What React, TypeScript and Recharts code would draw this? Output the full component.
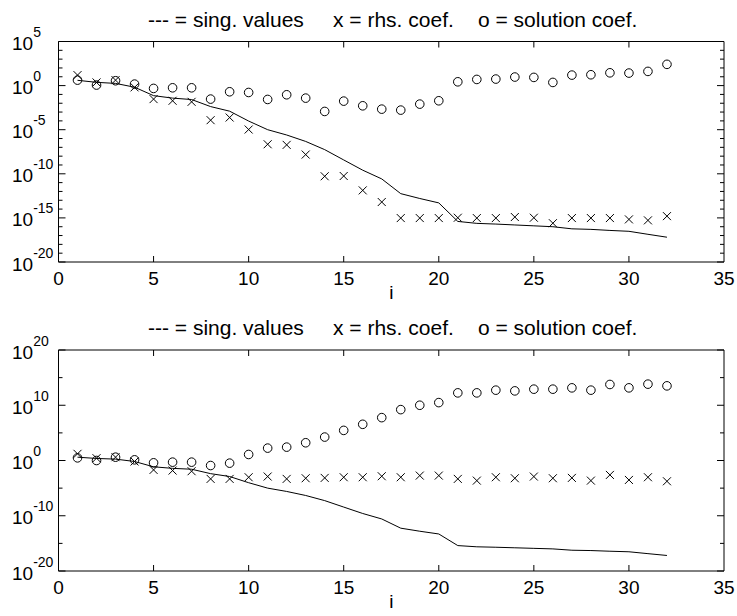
import React from "react";
import {
  ComposedChart,
  Line,
  Scatter,
  XAxis,
  YAxis,
  ReferenceLine,
} from "recharts";

// index of the coefficient
const idx = [
  1, 2, 3, 4, 5, 6, 7, 8, 9, 10, 11, 12, 13, 14, 15, 16, 17, 18, 19, 20, 21,
  22, 23, 24, 25, 26, 27, 28, 29, 30, 31, 32,
];

// log10 of the values
const singExp = [
  0.6, 0.37, 0.25, -0.18, -1.14, -1.42, -1.58, -2.38, -2.9, -4.02, -5.0, -5.6,
  -6.33, -7.26, -8.43, -9.59, -10.58, -12.25, -12.8, -13.3, -15.4, -15.62,
  -15.7, -15.8, -15.9, -16.0, -16.24, -16.3, -16.42, -16.52, -16.86, -17.19,
];

const rhsExpTop = [
  1.19, 0.36, 0.62, -0.2, -1.53, -1.72, -1.84, -3.92, -3.62, -4.98, -6.65,
  -6.72, -7.82, -10.28, -10.25, -11.88, -13.2, -15.02, -15.02, -15.02, -14.98,
  -15.02, -15.02, -14.9, -14.98, -15.6, -15.02, -15.02, -15.02, -15.17, -15.28,
  -14.8,
];
const solExpTop = [
  0.62, 0.06, 0.55, 0.17, -0.32, -0.25, -0.25, -1.53, -0.7, -0.78, -1.57,
  -1.04, -1.42, -2.93, -1.76, -2.29, -2.67, -2.78, -2.1, -1.72, 0.43, 0.7,
  0.74, 0.97, 0.93, 0.36, 1.19, 1.23, 1.45, 1.42, 1.61, 2.41,
];

const rhsExpBottom = [
  1.21, 0.42, 0.6, -0.18, -1.7, -1.82, -1.94, -3.33, -3.33, -3.03, -2.9, -3.33,
  -3.21, -3.15, -3.03, -3.03, -2.85, -3.03, -2.73, -2.73, -3.33, -3.64, -3.03,
  -3.21, -2.91, -3.21, -3.15, -3.64, -2.61, -3.52, -3.03, -3.76,
];
const solExpBottom = [
  0.48, 0, 0.6, 0.12, -0.42, -0.3, -0.3, -0.91, -0.48, 1.09, 2.24, 2.42, 3.21,
  4.24, 5.45, 6.55, 7.76, 9.21, 10.0, 10.48, 12.24, 12.24, 12.73, 12.6, 12.91,
  12.91, 13.15, 12.73, 13.76, 13.15, 13.82, 13.51,
];

const xTicks = [0, 5, 10, 15, 20, 25, 30, 35];
const topDecades = [
  -20, -19, -18, -17, -16, -15, -14, -13, -12, -11, -10, -9, -8, -7, -6, -5,
  -4, -3, -2, -1, 0, 1, 2, 3, 4, 5,
];
const topLabels = [-20, -15, -10, -5, 0, 5];
const bottomDecades = [-20, -15, -10, -5, 0, 5, 10, 15, 20];
const bottomLabels = [-20, -10, 0, 10, 20];

const titleParts = ["--- = sing. values", "x = rhs. coef.", "o = solution coef."];

const FONT = "Liberation Sans, Arial, Helvetica, sans-serif";
const W = 737;
const LEFT = 58.5;
const RIGHT = 724;

const makeRows = (rhs: number[], sol: number[]) =>
  idx.map((i, k) => ({
    i,
    sv: 10 ** singExp[k],
    rhs: 10 ** rhs[k],
    sol: 10 ** sol[k],
  }));

const Ring = (p: any) => (
  <circle cx={p.cx} cy={p.cy} r={4.3} fill="none" stroke="#000" strokeWidth={1} />
);

const Cross = (p: any) => {
  const { cx, cy } = p;
  const s = 4;
  return (
    <path
      d={`M${cx - s},${cy - s}L${cx + s},${cy + s}M${cx - s},${cy + s}L${cx + s},${cy - s}`}
      stroke="#000"
      strokeWidth={1}
      fill="none"
    />
  );
};

const YTick = (props: any) => {
  const { y, payload, labels } = props;
  const e = Math.round(Math.log10(payload.value));
  const major = labels.includes(e);
  const len = major ? 7 : 4;
  return (
    <g>
      <line x1={LEFT} x2={LEFT + len} y1={y} y2={y} stroke="#000" />
      <line x1={RIGHT - len} x2={RIGHT} y1={y} y2={y} stroke="#000" />
      {major && (
        <text x={12} y={y + 8.5} fontSize={19} fontFamily={FONT} fill="#000">
          10
          <tspan dy={-13} fontSize={14}>
            {e}
          </tspan>
        </text>
      )}
    </g>
  );
};

const XTick = (props: any) => {
  const { x, payload, top, bottom } = props;
  const v = payload.value;
  return (
    <g>
      {v > 0 && v < 35 && (
        <>
          <line x1={x} x2={x} y1={bottom} y2={bottom - 6} stroke="#000" />
          <line x1={x} x2={x} y1={top} y2={top + 6} stroke="#000" />
        </>
      )}
      <text x={x} y={bottom + 23} textAnchor="middle" fontSize={19} fontFamily={FONT} fill="#000">
        {v}
      </text>
    </g>
  );
};

type PanelProps = {
  rows: any[];
  height: number;
  top: number;
  xAxisH: number;
  lo: number;
  hi: number;
  decades: number[];
  labels: number[];
  labelOffset: number;
};

const Panel = ({ rows, height, top, xAxisH, lo, hi, decades, labels, labelOffset }: PanelProps) => {
  const bottom = height - xAxisH;
  return (
    <div style={{ position: "relative", width: W, height }}>
      <svg width={W} height={height} style={{ position: "absolute", left: 0, top: 0 }}>
        {titleParts.map((t, k) => (
          <text
            key={t}
            x={[148, 333, 478][k]}
            y={top - 15}
            fontSize={21}
            fontFamily={FONT}
            fill="#000"
          >
            {t}
          </text>
        ))}
      </svg>
      <div style={{ position: "absolute", left: 0, top: 0 }}>
        <ComposedChart
          width={W}
          height={height}
          data={rows}
          margin={{ top, right: W - RIGHT, bottom: 0, left: 0 }}
        >
          <XAxis
            dataKey="i"
            type="number"
            domain={[0, 35]}
            ticks={xTicks}
            interval={0}
            height={xAxisH}
            axisLine={{ stroke: "#000" }}
            tickLine={false}
            tick={<XTick top={top} bottom={bottom} />}
            label={{
              value: "i",
              position: "insideBottom",
              offset: labelOffset,
              fontSize: 19,
              fontFamily: FONT,
              fill: "#000",
            }}
          />
          <YAxis
            type="number"
            scale="log"
            domain={[10 ** lo, 10 ** hi]}
            allowDataOverflow
            ticks={decades.map((d) => 10 ** d)}
            interval={0}
            width={LEFT}
            axisLine={{ stroke: "#000" }}
            tickLine={false}
            tick={<YTick labels={labels} />}
          />
          <ReferenceLine y={10 ** hi} stroke="#000" />
          <ReferenceLine x={35} stroke="#000" />
          <Line
            dataKey="sv"
            stroke="#000"
            strokeWidth={1}
            dot={false}
            activeDot={false}
            type="linear"
            isAnimationActive={false}
          />
          <Scatter dataKey="rhs" shape={Cross} isAnimationActive={false} />
          <Scatter dataKey="sol" shape={Ring} isAnimationActive={false} />
        </ComposedChart>
      </div>
    </div>
  );
};

const App = () => (
  <div style={{ position: "absolute", left: 0, top: 0, width: W, height: 616, background: "#fff" }}>
    <Panel
      rows={makeRows(rhsExpTop, solExpTop)}
      height={310}
      top={41.5}
      xAxisH={48}
      lo={-20}
      hi={5}
      decades={topDecades}
      labels={topLabels}
      labelOffset={11}
    />
    <Panel
      rows={makeRows(rhsExpBottom, solExpBottom)}
      height={306}
      top={40}
      xAxisH={45}
      lo={-20}
      hi={20}
      decades={bottomDecades}
      labels={bottomLabels}
      labelOffset={8}
    />
  </div>
);

export default App;
